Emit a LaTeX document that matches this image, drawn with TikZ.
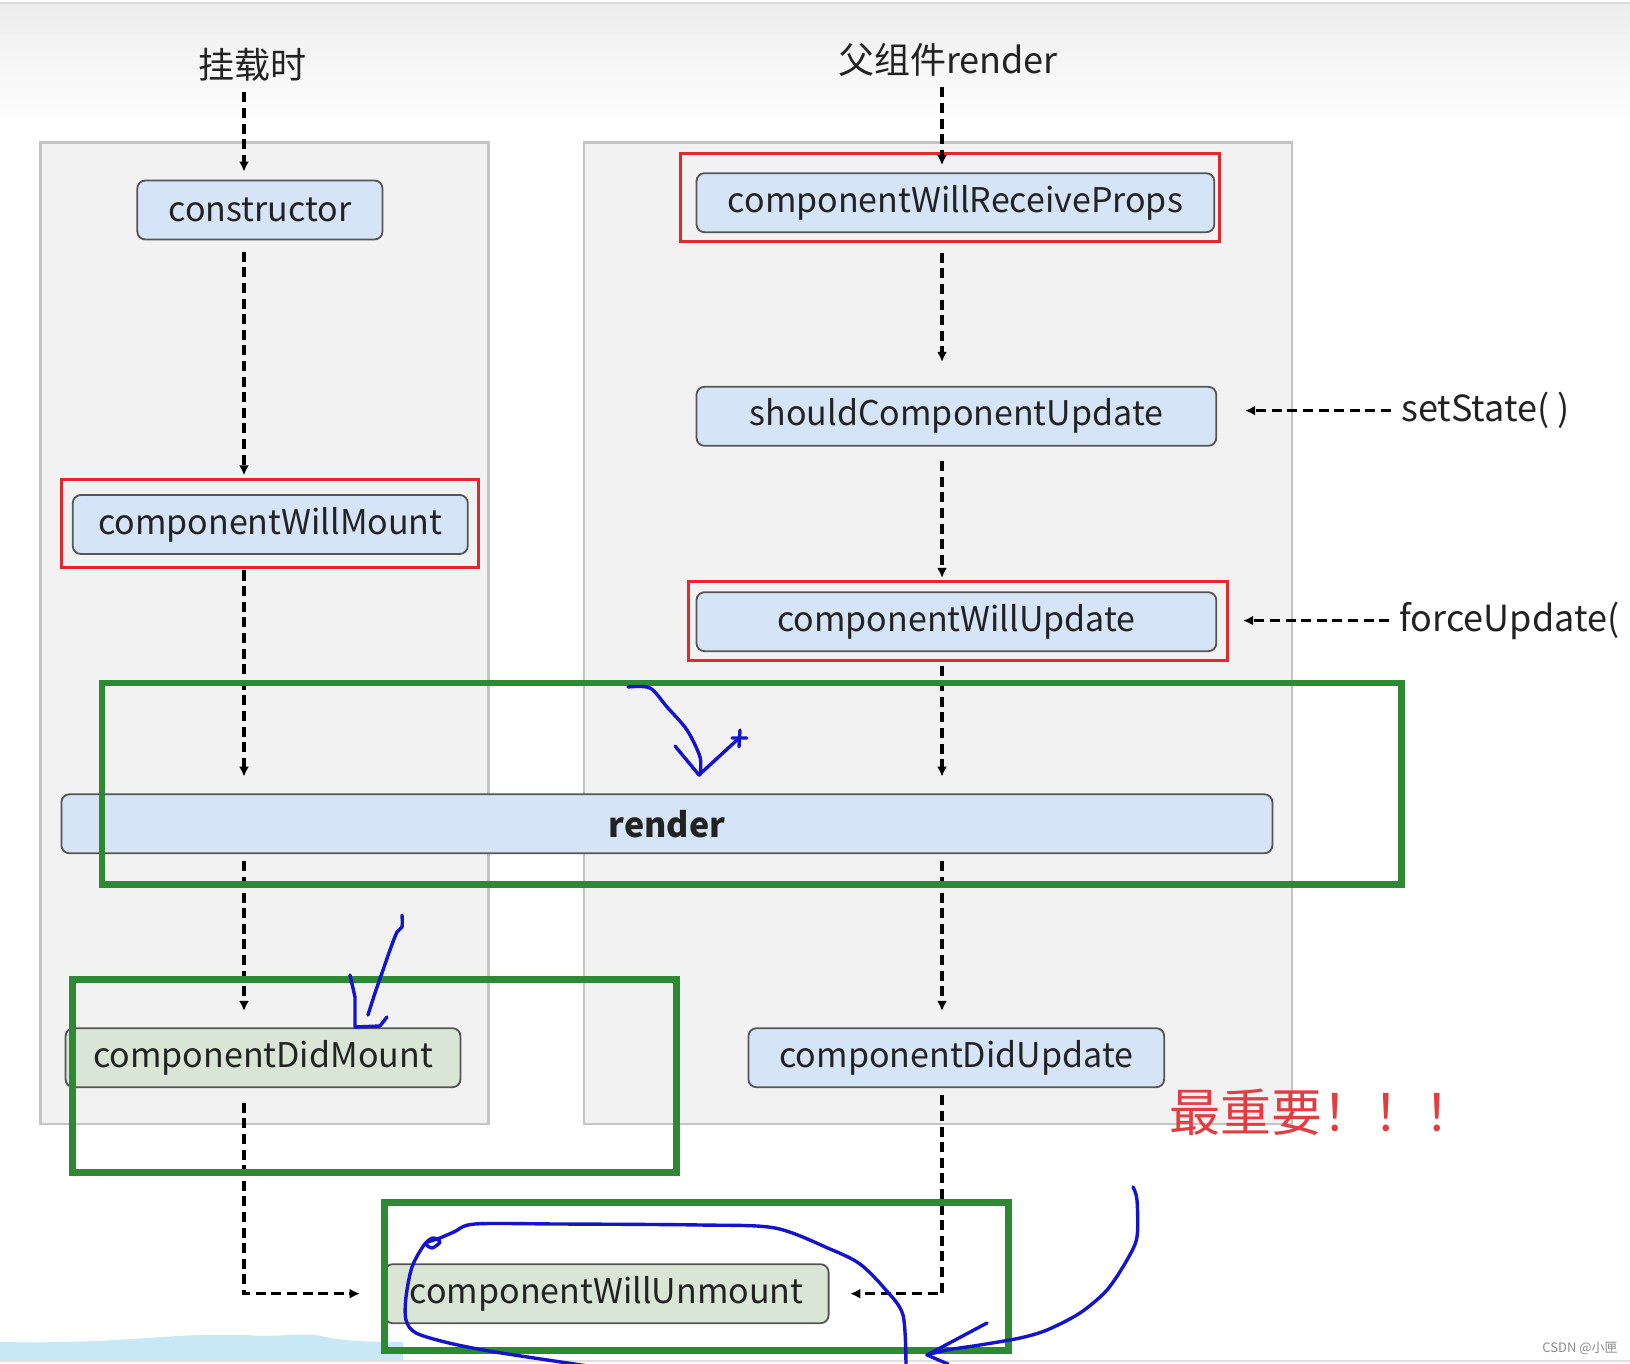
\documentclass[tikz,border=0pt]{standalone}
\usepackage{fontspec}
\setmainfont{Noto Sans CJK SC}
\usetikzlibrary{arrows.meta}
\definecolor{panelfill}{HTML}{F2F2F2}
\definecolor{panelline}{HTML}{C4C4C4}
\definecolor{boxblue}{HTML}{D6E4F7}
\definecolor{boxgreen}{HTML}{D9E5D5}
\definecolor{boxline}{HTML}{555555}
\definecolor{inkgray}{HTML}{222222}
\definecolor{markred}{HTML}{E0282D}
\definecolor{markgreen}{HTML}{2E8A32}
\definecolor{pen}{RGB}{20,20,205}
\definecolor{smear}{HTML}{C8E8F5}
\begin{document}
\begin{tikzpicture}[x=0.5pt,y=-0.5pt,
  stage/.style={draw=boxline, fill=boxblue, rounded corners=4pt, line width=0.9pt,
    minimum height=29.5pt, inner sep=0pt, text=inkgray, font=\fontsize{17pt}{21pt}\selectfont},
  stagegreen/.style={stage, fill=boxgreen},
  lbl/.style={inner sep=0pt, text=inkgray, font=\fontsize{18pt}{22pt}\selectfont},
  flow/.style={draw=black, line width=1.7pt, dash pattern=on 5pt off 2.8pt, -{Latex[length=5pt,width=5pt]}},
  redframe/.style={draw=markred, line width=1.5pt},
  greenframe/.style={draw=markgreen, line width=3.4pt},
  ink/.style={draw=pen, line width=1.7pt, line cap=round, line join=round}]
\useasboundingbox (0,0) rectangle (1630,1364);
\fill[white] (0,0) rectangle (1630,1364);
\shade[top color=black!7, bottom color=white] (0,4) rectangle (1630,125);
\draw[black!15, line width=1pt] (0,3) -- (1630,3);
\fill[smear] (0,1342) .. controls (100,1344) and (160,1336) .. (200,1335) -- (250,1335) .. controls (262,1338) and (300,1333) .. (317,1335) .. controls (335,1340) and (360,1342) .. (403,1342) -- (403,1360) -- (0,1360) -- cycle;
\draw[black!12, line width=1pt] (0,1361) -- (1630,1361);

\draw[panelline, fill=panelfill, line width=1.2pt] (40.5,142.4) rectangle (488.6,1123.7);
\draw[panelline, fill=panelfill, line width=1.2pt] (584.2,142.4) rectangle (1292.1,1123.7);

\coordinate (laneL) at (244,0);
\coordinate (laneR) at (942,0);

\node[lbl] (mountLbl) at (252.6,64.4) {挂载时};
\node[lbl] (parentLbl) at (948,60.3) {父组件render};
\node[stage, minimum width=122.6pt] (constructor) at (259.9,210) {constructor};
\node[stage, minimum width=197.5pt] (willMount) at (270.3,524.5) {componentWillMount};
\node[stage, minimum width=258.9pt] (receiveProps) at (955.4,202.7) {componentWillReceiveProps};
\node[stage, minimum width=259.9pt] (shouldUpdate) at (956.4,416.3) {shouldComponentUpdate};
\node[stage, minimum width=259.9pt] (willUpdate) at (956.4,621.7) {componentWillUpdate};
\node[stage, minimum width=605.5pt, font=\fontsize{17pt}{21pt}\selectfont\bfseries] (render) at (666.9,823.8) {render};
\node[stagegreen, minimum width=197.5pt] (didMount) at (263,1057.7) {componentDidMount};
\node[stage, minimum width=207.9pt] (didUpdate) at (956.3,1057.7) {componentDidUpdate};
\node[stagegreen, minimum width=222pt] (willUnmount) at (606.6,1293.7) {componentWillUnmount};
\node[lbl, anchor=west] (setStateLbl) at (1401,410.6) {setState( )};
\node[lbl, anchor=west] (forceLbl) at (1399.2,620.6) {forceUpdate(};

\draw[redframe] (61.3,479.2) rectangle (478.2,567.6);
\draw[redframe] (680.9,153.8) rectangle (1219.3,241.2);
\draw[redframe] (688.1,581.1) rectangle (1227.6,660.1);

\draw[flow, shorten <=5.5pt, shorten >=4pt] (mountLbl.south -| laneL) -- (constructor.north -| laneL);
\draw[flow, shorten <=5.75pt, shorten >=9.4pt] (constructor.south -| laneL) -- (willMount.north -| laneL);
\draw[flow, shorten <=7.8pt, shorten >=8.4pt] (willMount.south -| laneL) -- (render.north -| laneL);
\draw[flow, shorten <=3.6pt, shorten >=8.2pt] (render.south -| laneL) -- (didMount.north -| laneL);
\draw[flow, shorten <=7.3pt, shorten >=12pt] (didMount.south -| laneL) |- (willUnmount.west);
\draw[flow, shorten <=5pt, shorten >=3.6pt] (parentLbl.south -| laneR) -- (receiveProps.north -| laneR);
\draw[flow, shorten <=9.9pt, shorten >=12pt] (receiveProps.south -| laneR) -- (shouldUpdate.north -| laneR);
\draw[flow, shorten <=7.3pt, shorten >=6.7pt] (shouldUpdate.south -| laneR) -- (willUpdate.north -| laneR);
\draw[flow, shorten <=6.7pt, shorten >=8.4pt] (willUpdate.south -| laneR) -- (render.north -| laneR);
\draw[flow, shorten <=3.6pt, shorten >=8.2pt] (render.south -| laneR) -- (didUpdate.north -| laneR);
\draw[flow, shorten <=3.6pt, shorten >=10.4pt] (didUpdate.south -| laneR) |- (willUnmount.east);
\draw[flow, shorten <=5pt, shorten >=14pt] (setStateLbl.west) -- (setStateLbl.west -| shouldUpdate.east);
\draw[flow, shorten <=5pt, shorten >=13pt] (forceLbl.west) -- (forceLbl.west -| willUpdate.east);

\draw[greenframe] (101.9,683) rectangle (1401.2,884.6);
\draw[greenframe] (72.8,979.2) rectangle (676.7,1172.6);
\draw[greenframe] (384.6,1202.7) rectangle (1008.3,1350.3);

\node[text=markred!90!white, inner sep=0pt, font=\fontsize{25.5pt}{30pt}\selectfont] (mostImportant) at (1322,1112.3) {最重要！！！};
\node[text=black!45, inner sep=0pt, font=\fontsize{6.5pt}{8pt}\selectfont] (mark) at (1580,1348) {CSDN @小匣};

\draw[ink] plot[smooth] coordinates {(628,687) (650,688) (667,707) (687,730) (700,757) (700,775)};
\draw[ink] (675,746) -- (699,775) -- (737,740);
\draw[ink] (732,738) -- (747,738) (740,730) -- (739,747);
\draw[ink] plot[smooth] coordinates {(402,915) (402,927) (397,932) (390,950) (382,973) (375,993) (368,1015)};
\draw[ink] (350,975) -- (355,997) -- (355,1027) -- (380,1026) -- (387,1017);
\draw[ink] plot[smooth] coordinates {(588,1366) (495,1352) (449,1343) (416,1333) (406,1320) (406,1297) (412,1267) (424,1245) (433,1238) (440,1242) (432,1248) (426,1243) (440,1238) (454,1232) (475,1224) (558,1224) (700,1225) (775,1228) (830,1249) (860,1264) (885,1289) (903,1315) (906,1366)};
\draw[ink] plot[smooth] coordinates {(1133,1187) (1137,1200) (1137,1237) (1127,1260) (1107,1290) (1080,1313) (1047,1330) (1020,1338) (980,1345) (947,1350) (927,1355)};
\draw[ink] (987,1323) -- (927,1355) -- (948,1364);
\end{tikzpicture}
\end{document}
